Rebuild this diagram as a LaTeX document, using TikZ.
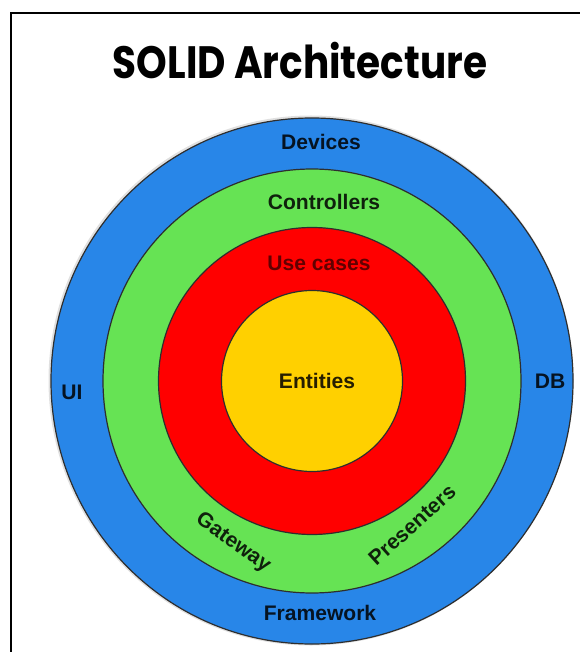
\documentclass[tikz,border=0pt]{standalone}
\usepackage{fontspec}
\setmainfont{Liberation Sans}
\newfontfamily\titlefont{Poppins}
\definecolor{ringblue}{HTML}{2886E8}
\definecolor{ringgreen}{HTML}{66E354}
\definecolor{ringred}{HTML}{FF0000}
\definecolor{ringyellow}{HTML}{FFD000}
\definecolor{ringedge}{HTML}{2E2E2E}
\begin{document}
\begin{tikzpicture}[x=0.75pt,y=-0.75pt,
  ring/.style={draw=ringedge,line width=0.9pt},
  lbl/.style={font=\bfseries\fontsize{15.8}{18}\selectfont,text=black,text opacity=0.85,inner sep=0pt}]
\useasboundingbox (0,0) rectangle (580,652);
% frame, open to the right and bottom
\draw[line width=1.9pt] (580,13) -- (11,13) -- (11,652);
% title
\node[font=\titlefont\bfseries\fontsize{34}{40}\selectfont,inner sep=0pt] (title) at (300,61) {\scalebox{0.86}[1]{SOLID Architecture}};
% concentric layers
\coordinate (c) at (312,381);
\fill[black!12] (311,380.5) ellipse [x radius=262.5,y radius=265];
\draw[ring,fill=ringblue] (c) ellipse [x radius=261,y radius=263];
\draw[ring,fill=ringgreen] (c) ellipse [x radius=209,y radius=212];
\draw[ring,fill=ringred] (c) circle [radius=153.5];
\draw[ring,fill=ringyellow] (c) circle [radius=90.5];
% layer labels
\node[lbl] (devices) at (321,142) {Devices};
\node[lbl] (controllers) at (324,202) {Controllers};
\node[lbl,text opacity=0.62] (usecases) at (319,263) {Use cases};
\node[lbl] (entities) at (317,381) {Entities};
\node[lbl] (ui) at (72,392) {UI};
\node[lbl] (db) at (550,381) {DB};
\node[lbl] (framework) at (320,613) {Framework};
\node[lbl,rotate=-36] (gateway) at (233,543) {Gateway};
\node[lbl,rotate=42] (presenters) at (412,525) {Presenters};
\end{tikzpicture}
\end{document}
